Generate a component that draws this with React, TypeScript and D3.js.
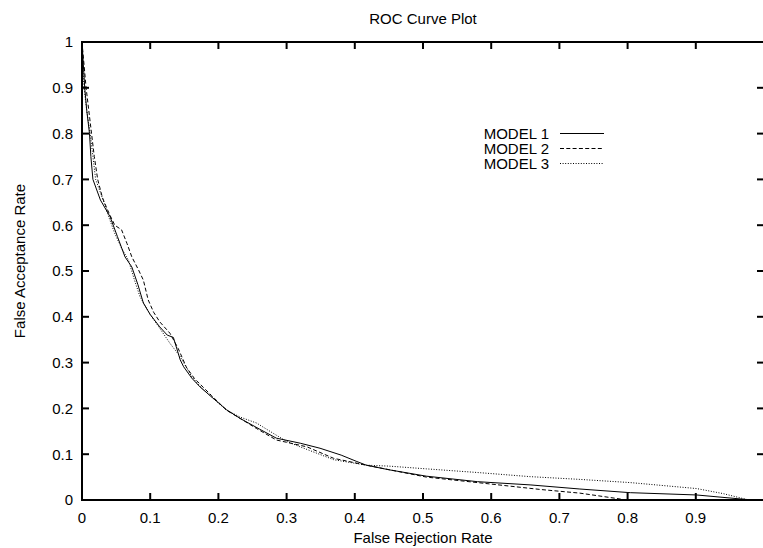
import React from "react";
import * as d3 from "d3";

const xTicks = [0, 0.1, 0.2, 0.3, 0.4, 0.5, 0.6, 0.7, 0.8, 0.9];
const yTicks = [0, 0.1, 0.2, 0.3, 0.4, 0.5, 0.6, 0.7, 0.8, 0.9, 1];

const model1X = [0, 0.002, 0.004, 0.007, 0.011, 0.013, 0.016, 0.027, 0.041, 0.052, 0.063, 0.073, 0.082, 0.09, 0.1, 0.114, 0.125, 0.134, 0.144, 0.149, 0.161, 0.173, 0.19, 0.212, 0.232, 0.26, 0.285, 0.32, 0.349, 0.38, 0.403, 0.417, 0.45, 0.505, 0.58, 0.657, 0.73, 0.804, 0.901, 0.975];
const model1Y = [1, 0.95, 0.9, 0.85, 0.8, 0.75, 0.7, 0.655, 0.619, 0.575, 0.531, 0.509, 0.47, 0.43, 0.405, 0.378, 0.36, 0.355, 0.306, 0.291, 0.266, 0.247, 0.225, 0.197, 0.178, 0.155, 0.135, 0.124, 0.113, 0.098, 0.084, 0.076, 0.066, 0.052, 0.04, 0.033, 0.024, 0.016, 0.011, 0.001];

const model2X = [0, 0.003, 0.006, 0.01, 0.014, 0.018, 0.023, 0.03, 0.037, 0.041, 0.048, 0.058, 0.066, 0.073, 0.083, 0.09, 0.097, 0.105, 0.114, 0.129, 0.141, 0.153, 0.165, 0.19, 0.212, 0.232, 0.256, 0.285, 0.33, 0.369, 0.417, 0.505, 0.58, 0.672, 0.73, 0.79];
const model2Y = [1, 0.95, 0.9, 0.85, 0.8, 0.75, 0.7, 0.66, 0.635, 0.622, 0.6, 0.59, 0.56, 0.531, 0.502, 0.48, 0.437, 0.41, 0.389, 0.364, 0.331, 0.29, 0.265, 0.228, 0.196, 0.178, 0.156, 0.131, 0.116, 0.091, 0.076, 0.05, 0.038, 0.023, 0.015, 0.002];

const model3X = [0, 0.001, 0.003, 0.007, 0.012, 0.016, 0.02, 0.031, 0.04, 0.048, 0.058, 0.068, 0.077, 0.085, 0.1, 0.114, 0.129, 0.144, 0.161, 0.175, 0.19, 0.212, 0.232, 0.256, 0.28, 0.3, 0.32, 0.369, 0.417, 0.45, 0.505, 0.58, 0.657, 0.73, 0.804, 0.901, 0.94, 0.975];
const model3Y = [1, 0.95, 0.9, 0.85, 0.8, 0.75, 0.7, 0.655, 0.615, 0.582, 0.55, 0.524, 0.48, 0.444, 0.405, 0.375, 0.342, 0.313, 0.269, 0.245, 0.225, 0.196, 0.181, 0.168, 0.146, 0.128, 0.116, 0.088, 0.076, 0.074, 0.068, 0.06, 0.051, 0.045, 0.038, 0.025, 0.014, 0.001];

const seriesNames = ["MODEL 1", "MODEL 2", "MODEL 3"];

const W = 763;
const H = 548;
const left = 82;
const right = 764;
const top = 42;
const bottom = 500;
const FONT = "'Liberation Sans', Arial, Helvetica, sans-serif";

export default function App() {
  const x = d3.scaleLinear().domain([0, 1]).range([left, right]);
  const y = d3.scaleLinear().domain([0, 1]).range([bottom, top]);
  const line = d3
    .line<[number, number]>()
    .x((d) => x(d[0]))
    .y((d) => y(d[1]));

  const series = [
    { name: seriesNames[0], xs: model1X, ys: model1Y, dash: "none" },
    { name: seriesNames[1], xs: model2X, ys: model2Y, dash: "4,2.3" },
    { name: seriesNames[2], xs: model3X, ys: model3Y, dash: "1,1.6" },
  ];

  const tickLen = 7;

  return (
    <svg
      width={W}
      height={H}
      style={{ position: "absolute", left: 0, top: 0, background: "#fff" }}
      fontFamily={FONT}
      fontSize={15}
    >
      <rect x={0} y={0} width={W} height={H} fill="#fff" />
      <defs>
        <clipPath id="plot">
          <rect x={left} y={top} width={right - left} height={bottom - top} />
        </clipPath>
      </defs>
      <text x={(left + right) / 2} y={24} textAnchor="middle" fill="#000">
        ROC Curve Plot
      </text>

      {/* curves */}
      <g clipPath="url(#plot)">
        {series.map((s) => (
          <path
            key={s.name}
            d={line(s.xs.map((v, i) => [v, s.ys[i]] as [number, number])) || ""}
            fill="none"
            stroke="#000"
            strokeWidth={1}
            strokeDasharray={s.dash}
          />
        ))}
      </g>

      {/* ticks */}
      {xTicks.map((t) => (
        <g key={"x" + t}>
          <line x1={x(t)} x2={x(t)} y1={bottom} y2={bottom - tickLen} stroke="#000" strokeWidth={2} />
          <line x1={x(t)} x2={x(t)} y1={top} y2={top + tickLen} stroke="#000" strokeWidth={2} />
          <text x={x(t)} y={523} textAnchor="middle" fill="#000">
            {String(t)}
          </text>
        </g>
      ))}
      {yTicks.map((t) => (
        <g key={"y" + t}>
          <line x1={left} x2={left + tickLen} y1={y(t)} y2={y(t)} stroke="#000" strokeWidth={2} />
          <line x1={right} x2={right - tickLen} y1={y(t)} y2={y(t)} stroke="#000" strokeWidth={2} />
          <text x={73} y={y(t)} dy="0.36em" textAnchor="end" fill="#000">
            {String(t)}
          </text>
        </g>
      ))}

      {/* frame */}
      <rect x={left} y={top} width={right - left} height={bottom - top} fill="none" stroke="#000" strokeWidth={2} />

      {/* legend */}
      {series.map((s, i) => (
        <g key={"leg" + s.name}>
          <text x={549} y={133.5 + i * 15} dy="0.36em" textAnchor="end" fill="#000">
            {s.name}
          </text>
          <line
            x1={560}
            x2={604}
            y1={133.5 + i * 15}
            y2={133.5 + i * 15}
            stroke="#000"
            strokeWidth={1}
            strokeDasharray={s.dash}
          />
        </g>
      ))}

      {/* axis labels */}
      <text x={(left + right) / 2} y={543} textAnchor="middle" fill="#000">
        False Rejection Rate
      </text>
      <text
        transform={`translate(25, ${(top + bottom) / 2 - 10}) rotate(-90)`}
        textAnchor="middle"
        fill="#000"
      >
        False Acceptance Rate
      </text>
    </svg>
  );
}
